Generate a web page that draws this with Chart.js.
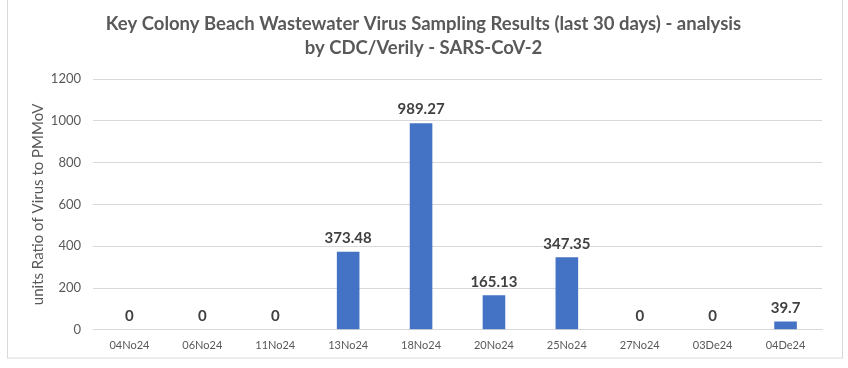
<!DOCTYPE html>
<html><head><meta charset="utf-8">
<script src="https://cdn.jsdelivr.net/npm/chart.js@4"></script>
<style>html,body{margin:0;padding:0;background:#fff}#wrap{width:848px;height:368px}</style>
</head><body><div id="wrap"><canvas id="c" width="848" height="368"></canvas></div>
<script>
const categories = ["04No24","06No24","11No24","13No24","18No24","20No24","25No24","27No24","03De24","04De24"];
const values = [0,0,0,373.48,989.27,165.13,347.35,0,0,39.7];
const yTicks = [0,200,400,600,800,1000,1200];
const titleLines = ["Key Colony Beach Wastewater Virus Sampling Results (last 30 days) - analysis","by CDC/Verily - SARS-CoV-2"];
const yTitle = "units Ratio of Virus to PMMoV";

const borderPlugin = {
  id:'border',
  beforeDraw(chart){
    const c=chart.ctx; c.save(); c.fillStyle='#fff'; c.fillRect(0,0,848,368);
    c.strokeStyle='#d9d9d9'; c.lineWidth=1; c.strokeRect(7.5,-1,835,359); c.restore();
  }
};
const labelPlugin = {
  id:'labels',
  afterDatasetsDraw(chart){
    const c=chart.ctx; const meta=chart.getDatasetMeta(0);
    c.save(); c.font='bold 15px Lato, "Open Sans", sans-serif'; c.fillStyle='#404040';
    c.textAlign='center'; c.textBaseline='bottom';
    meta.data.forEach((el,i)=>{ c.fillText(String(values[i]), el.x, el.y-6); });
    c.restore();
  }
};
new Chart(document.getElementById('c'),{
  type:'bar',
  data:{labels:categories,datasets:[{data:values,backgroundColor:'#4472c4',barPercentage:0.31,categoryPercentage:1}]},
  options:{
    responsive:false,animation:false,devicePixelRatio:1,
    layout:{padding:{top:8,right:26,left:25,bottom:15}},
    plugins:{legend:{display:false},tooltip:{enabled:false},
      title:{display:true,text:titleLines,color:'#595959',font:{family:'Lato, "Open Sans", sans-serif',size:18.5,weight:'bold',lineHeight:1.3},padding:{top:4,bottom:19}}},
    scales:{
      x:{grid:{display:false},border:{color:'#d9d9d9'},
        ticks:{color:'#595959',font:{family:'Lato, "Open Sans", sans-serif',size:11},maxRotation:0,padding:1}},
      y:{min:0,max:1200,afterBuildTicks(a){a.ticks=yTicks.map(v=>({value:v}));},
        grid:{color:'#d9d9d9',drawTicks:false},border:{display:false},
        ticks:{color:'#595959',font:{family:'Lato, "Open Sans", sans-serif',size:13},padding:12,callback:v=>String(v)},
        title:{display:true,text:yTitle,color:'#595959',font:{family:'Lato, "Open Sans", sans-serif',size:15},padding:{bottom:4}},
        afterFit(a){a.width=68;}}
    }
  },
  plugins:[borderPlugin,labelPlugin]
});
</script></body></html>
